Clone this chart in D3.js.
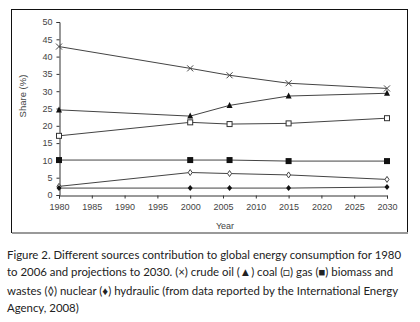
<!DOCTYPE html>
<html><head><meta charset="utf-8">
<script src="https://cdn.jsdelivr.net/npm/d3@7"></script>
<style>
body{margin:0;background:#fff;}
svg{display:block;}
</style></head>
<body>
<svg id="c" width="420" height="322"></svg>
<script>
const years = [1980, 2000, 2006, 2015, 2030];
const crudeOil = [42.9, 36.6, 34.6, 32.3, 30.8];
const coal = [24.6, 22.8, 25.9, 28.6, 29.4];
const gas = [17.1, 21.0, 20.5, 20.7, 22.2];
const biomass = [10.1, 10.1, 10.1, 9.8, 9.8];
const nuclear = [2.5, 6.5, 6.2, 5.8, 4.5];
const hydraulic = [2.0, 2.0, 2.0, 2.0, 2.3];
const xTicks = [1980, 1985, 1990, 1995, 2000, 2005, 2010, 2015, 2020, 2025, 2030];
const yTicks = [0, 5, 10, 15, 20, 25, 30, 35, 40, 45, 50];
const captionLines = [
  "Figure 2. Different sources contribution to global energy consumption for 1980",
  "to 2006 and projections to 2030. (\u00d7) crude oil (\u25B2) coal (\u25A1) gas (\u25A0) biomass and",
  "wastes (\u25CA) nuclear (\u2666) hydraulic (from data reported by the International Energy",
  "Agency, 2008)"
];

const svg = d3.select("#c");
svg.append("rect").attr("x", 11.5).attr("y", 9.5).attr("width", 396).attr("height", 223)
  .attr("fill", "#fff").attr("stroke", "#111").attr("stroke-width", 1);
svg.append("line").attr("x1", 12).attr("x2", 408).attr("y1", 233).attr("y2", 233)
  .attr("stroke", "#999").attr("stroke-width", 2);

const x = d3.scaleLinear().domain([1980, 2030]).range([59, 387]);
const y = d3.scaleLinear().domain([0, 50]).range([195, 22]);

const font = "'Liberation Sans', Arial, sans-serif";
const gx = svg.append("g").attr("transform", "translate(0,195.5)")
  .call(d3.axisBottom(x).tickValues(xTicks).tickFormat(d3.format("d")).tickSize(3).tickPadding(5));
const gy = svg.append("g").attr("transform", "translate(59.5,0)")
  .call(d3.axisLeft(y).tickValues(yTicks).tickSize(3).tickPadding(4));
[gx, gy].forEach(g => {
  g.select(".domain").attr("stroke", "#333");
  g.selectAll(".tick line").attr("stroke", "#333");
  g.selectAll("text").attr("font-family", font).attr("font-size", 9).attr("fill", "#444");
});

svg.append("text").attr("x", 225).attr("y", 229).attr("text-anchor", "middle")
  .attr("font-family", font).attr("font-size", 9).attr("fill", "#444").text("Year");
svg.append("text").attr("transform", "translate(26,96) rotate(-90)").attr("text-anchor", "middle")
  .attr("font-family", font).attr("font-size", 9.5).attr("fill", "#444").text("Share (%)");

const series = [
  {v: crudeOil, m: "x"},
  {v: coal, m: "tri"},
  {v: gas, m: "sqo"},
  {v: biomass, m: "sqf"},
  {v: nuclear, m: "dio"},
  {v: hydraulic, m: "dif"}
];
const line = d3.line().x((d, i) => x(years[i])).y(d => y(d));
series.forEach(s => {
  svg.append("path").attr("d", line(s.v)).attr("fill", "none")
    .attr("stroke", "#444").attr("stroke-width", 1);
  const g = svg.append("g");
  s.v.forEach((d, i) => {
    const cx = x(years[i]), cy = y(d);
    if (s.m === "x") {
      g.append("path").attr("d", `M${cx-3},${cy-3}L${cx+3},${cy+3}M${cx-3},${cy+3}L${cx+3},${cy-3}`)
        .attr("stroke", "#444").attr("stroke-width", 1);
    } else if (s.m === "tri") {
      g.append("path").attr("d", `M${cx},${cy-3.5}L${cx+3},${cy+2.5}L${cx-3},${cy+2.5}Z`).attr("fill", "#111");
    } else if (s.m === "sqo") {
      g.append("rect").attr("x", cx-2.5).attr("y", cy-2.5).attr("width", 5).attr("height", 5)
        .attr("fill", "#fff").attr("stroke", "#333").attr("stroke-width", 1);
    } else if (s.m === "sqf") {
      g.append("rect").attr("x", cx-3).attr("y", cy-3).attr("width", 6).attr("height", 6).attr("fill", "#111");
    } else if (s.m === "dio") {
      g.append("path").attr("d", `M${cx},${cy-3}L${cx+2},${cy}L${cx},${cy+3}L${cx-2},${cy}Z`)
        .attr("fill", "#fff").attr("stroke", "#444").attr("stroke-width", 1);
    } else {
      g.append("path").attr("d", `M${cx},${cy-3}L${cx+2.5},${cy}L${cx},${cy+3}L${cx-2.5},${cy}Z`).attr("fill", "#111");
    }
  });
});

const capY = [259, 276, 295, 312];
captionLines.forEach((t, i) => {
  svg.append("text").attr("x", 7).attr("y", capY[i])
    .attr("font-family", "Lato, 'Open Sans', sans-serif").attr("font-size", 11.4).attr("fill", "#222").text(t);
});
</script>
</body></html>
